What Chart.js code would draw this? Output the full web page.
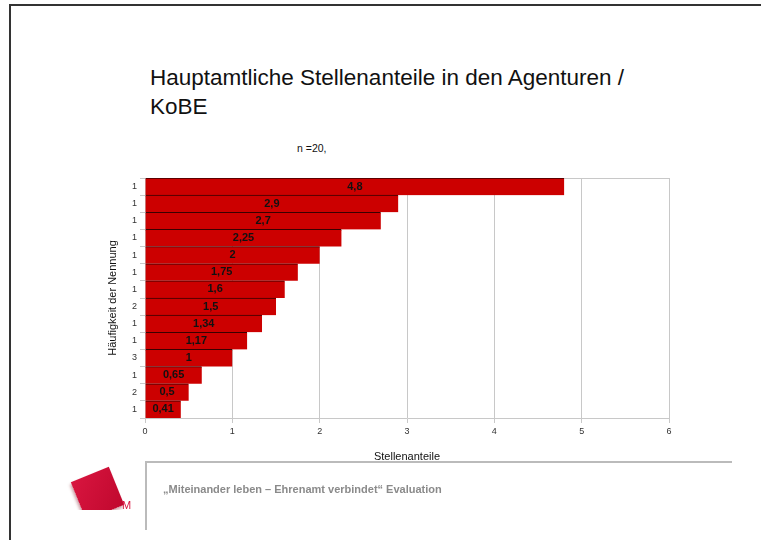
<!DOCTYPE html>
<html>
<head>
<meta charset="utf-8">
<script src="https://cdn.jsdelivr.net/npm/chart.js@4/dist/chart.umd.min.js"></script>
<style>
  body { margin:0; width:761px; height:540px; position:relative; overflow:hidden; background:#fff; font-family:"Liberation Sans", Arial, sans-serif; }
  #frameTop { position:absolute; left:10px; top:4px; width:751px; height:2px; background:#333; }
  #frameLeft { position:absolute; left:9px; top:4px; width:2px; height:536px; background:#333; }
  #title { position:absolute; left:150px; top:63px; font-size:22.5px; line-height:29px; color:#111; }
  #n { position:absolute; left:297px; top:142px; font-size:10.5px; color:#111; }
  #cv { position:absolute; left:0; top:0; }
  #footH { position:absolute; left:146px; top:461px; width:586px; height:2px; background:#bbb; }
  #footV { position:absolute; left:145px; top:461px; width:2px; height:69px; background:#bbb; }
  #footText { position:absolute; left:163px; top:483px; font-size:11px; font-weight:bold; color:#8a8a8a; }
  #logo { position:absolute; left:63px; top:462px; width:72px; height:48px; overflow:hidden; }
  #logo .sq { position:absolute; left:14px; top:11px; width:41px; height:41px; transform:rotate(-22deg); background:linear-gradient(135deg,#d8153f,#c0082e); box-shadow:-2px 2px 3px rgba(120,0,20,0.35); }
  #logo .m { position:absolute; left:59px; top:37px; font-size:11px; color:#d8153f; }
</style>
</head>
<body>
<div id="frameTop"></div>
<div id="frameLeft"></div>
<div id="title">Hauptamtliche Stellenanteile in den Agenturen /<br>KoBE</div>
<div id="n">n =20,</div>
<canvas id="cv" width="761" height="540"></canvas>
<div id="footH"></div>
<div id="footV"></div>
<div id="footText">„Miteinander leben – Ehrenamt verbindet“ Evaluation</div>
<div id="logo"><div class="sq"></div><div class="m">M</div></div>
<script>
// Häufigkeit der Nennung (Kategorien) und Stellenanteile
const frequencies = ['1', '1', '1', '1', '1', '1', '1', '2', '1', '1', '3', '1', '2', '1'];
const shares = [4.8, 2.9, 2.7, 2.25, 2, 1.75, 1.6, 1.5, 1.34, 1.17, 1, 0.65, 0.5, 0.41];
const xTicks = [0, 1, 2, 3, 4, 5, 6];

// Wert mitten im Balken, mit Komma
const barLabels = {
    id: 'barLabels',
    afterDatasetsDraw(chart) {
        const ctx = chart.ctx;
        const meta = chart.getDatasetMeta(0);
        ctx.save();
        ctx.font = 'bold 11px "Liberation Sans", Arial, sans-serif';
        ctx.fillStyle = '#111';
        ctx.textAlign = 'center';
        ctx.textBaseline = 'middle';
        meta.data.forEach((bar, i) => {
            const x = (bar.x + bar.base) / 2;
            ctx.fillText(String(shares[i]).replace('.', ','), x, bar.y);
        });
        ctx.restore();
    }
};

// obere Rahmenlinie des Plotbereichs
const topLine = {
    id: 'topLine',
    beforeDatasetsDraw(chart) {
        const a = chart.chartArea;
        const ctx = chart.ctx;
        ctx.save();
        ctx.strokeStyle = '#c8c8c8';
        ctx.lineWidth = 1;
        ctx.beginPath();
        ctx.moveTo(a.left, a.top + 0.5);
        ctx.lineTo(a.right, a.top + 0.5);
        ctx.stroke();
        ctx.restore();
    }
};

new Chart(document.getElementById('cv'), {
    type: 'bar',
    data: {
        labels: frequencies,
        datasets: [{
            data: shares,
            backgroundColor: '#cc0000',
            borderColor: '#3a0000',
            borderWidth: { top: 1, left: 0, right: 0, bottom: 0 },
            borderSkipped: false,
            categoryPercentage: 1,
            barPercentage: 1
        }]
    },
    options: {
        indexAxis: 'y',
        responsive: false,
        animation: false,
        layout: { padding: { left: 100, top: 178, right: 92, bottom: 76 } },
        plugins: { legend: { display: false }, tooltip: { enabled: false } },
        scales: {
            x: {
                min: 0, max: 6,
                afterBuildTicks(scale) { scale.ticks = xTicks.map(v => ({ value: v })); },
                grid: { color: '#c8c8c8', lineWidth: 1, tickLength: 5 },
                border: { color: '#c8c8c8' },
                ticks: { color: '#333', font: { size: 9, family: '"Liberation Sans", Arial' }, padding: 3 },
                title: { display: true, text: 'Stellenanteile', color: '#111', font: { size: 11, family: '"Liberation Sans", Arial' }, padding: { top: 8, bottom: 0 } },
                afterFit(scale) { scale.height = 46; }
            },
            y: {
                grid: { offset: true, drawOnChartArea: false, color: '#c8c8c8', tickLength: 5 },
                border: { color: '#c8c8c8' },
                ticks: { color: '#333', font: { size: 9, family: '"Liberation Sans", Arial' }, padding: 3 },
                title: { display: true, text: 'Häufigkeit der Nennung', color: '#111', font: { size: 11, family: '"Liberation Sans", Arial' }, padding: { top: 6, bottom: 0 } },
                afterFit(scale) { scale.width = 45; }
            }
        }
    },
    plugins: [barLabels, topLine]
});
</script>
</body>
</html>
